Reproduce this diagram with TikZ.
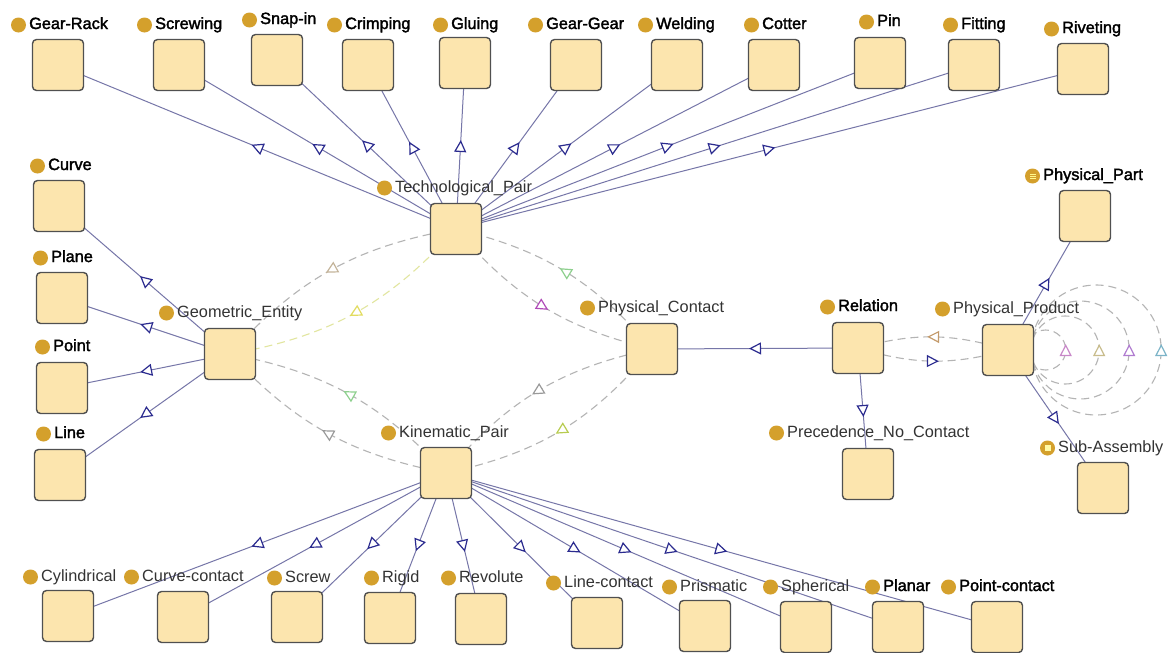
\documentclass[tikz,border=0pt]{standalone}
\usepackage{fontspec}
\setmainfont{Liberation Sans}
\newfontfamily\heavyfont[FakeBold=2]{Liberation Sans}
\usetikzlibrary{arrows.meta,decorations.markings}
\definecolor{boxfill}{HTML}{FCE5AE}
\definecolor{boxline}{HTML}{505050}
\definecolor{dotc}{HTML}{D4A02C}
\definecolor{txtgray}{HTML}{333333}
\definecolor{edgec}{HTML}{7676A8}
\definecolor{navyc}{HTML}{2B2B8F}
\definecolor{propc}{HTML}{B4B4B4}
\definecolor{yellowline}{HTML}{E2E6A0}
\definecolor{tanc}{HTML}{C4B49A}
\definecolor{yelc}{HTML}{E2DC60}
\definecolor{greenc}{HTML}{8ED08E}
\definecolor{magc}{HTML}{B04CB8}
\definecolor{grayc}{HTML}{9A9A9A}
\definecolor{ygc}{HTML}{B8CC50}
\definecolor{brownc}{HTML}{C49A6A}
\definecolor{pinkc}{HTML}{C888C8}
\definecolor{tantwo}{HTML}{C8BC8C}
\definecolor{purplec}{HTML}{B07CD0}
\definecolor{tealc}{HTML}{7CB4C8}
\pgfdeclarelayer{bg}
\pgfsetlayers{bg,main}
\tikzset{
  box/.style={draw=boxline, fill=boxfill, rounded corners=4pt, minimum size=51pt, inner sep=0pt, line width=1.4pt},
  lbl/.style={inner sep=0pt, text height=11pt, text depth=3pt, font=\fontsize{16.3}{18}\selectfont, text=txtgray},
  hlbl/.style={inner sep=0pt, text height=11pt, text depth=3pt, font=\heavyfont\fontsize{16.3}{18}\selectfont, text=black},
  dot/.style={circle, fill=dotc, minimum size=15pt, inner sep=0pt},
  tri/.style={postaction={decorate}, decoration={markings, mark=at position 0.5 with {\pgftransformxshift{6pt}\arrow{Triangle[length=12pt,width=12pt,color=#1,fill=white,line width=1.2pt]}}}},
  sub/.style={draw=edgec, line width=1pt, tri=navyc},
  prop/.style={draw=propc, line width=1.1pt, dash pattern=on 8pt off 5pt},
}
\newcommand\mkcls[7]{%
  \node[box] (#1) at (#2,-#3) {};
  \node[#7, anchor=west] (#1-t) at (#4,-#5) {#6};
  \node[dot] (#1-d) at ([xshift=-10.5pt]#1-t.west) {};
}
\begin{document}
\begin{tikzpicture}[x=1pt,y=1pt]
\useasboundingbox (0,0) rectangle (1173,-653);
% top row
\mkcls{GR}{58}{65}{29}{25}{Gear-Rack}{hlbl}
\mkcls{SW}{179}{65}{155}{25}{Screwing}{hlbl}
\mkcls{SN}{277}{60}{260}{20}{Snap-in}{hlbl}
\mkcls{CR}{368}{65}{345}{25}{Crimping}{hlbl}
\mkcls{GL}{465}{63}{451}{25}{Gluing}{hlbl}
\mkcls{GG}{576}{65}{546}{25}{Gear-Gear}{hlbl}
\mkcls{WE}{677}{65}{656}{25}{Welding}{hlbl}
\mkcls{CO}{774}{65}{762}{25}{Cotter}{hlbl}
\mkcls{PI}{880}{63}{877}{22}{Pin}{hlbl}
\mkcls{FI}{974}{65}{961}{25}{Fitting}{hlbl}
\mkcls{RI}{1083}{69}{1062}{29}{Riveting}{hlbl}
% left column
\mkcls{CU}{59}{206}{48}{166}{Curve}{hlbl}
\mkcls{PL}{62}{298}{51}{258}{Plane}{hlbl}
\mkcls{PO}{62}{388}{53}{347}{Point}{hlbl}
\mkcls{LI}{60}{475}{54}{434}{Line}{hlbl}
% middle
\mkcls{GE}{230}{354}{177}{313}{Geometric\_Entity}{lbl}
\mkcls{TP}{456}{229}{395}{188}{Technological\_Pair}{lbl}
\mkcls{PC}{652}{349}{598}{308}{Physical\_Contact}{lbl}
\mkcls{KP}{446}{473}{399}{433}{Kinematic\_Pair}{lbl}
\mkcls{RE}{858}{348}{838}{307}{Relation}{hlbl}
\mkcls{PP}{1008}{350}{953}{309}{Physical\_Product}{lbl}
\mkcls{PA}{1085}{216}{1043}{176}{Physical\_Part}{hlbl}
\mkcls{PNC}{868}{474}{787}{433}{Precedence\_No\_Contact}{lbl}
\mkcls{SA}{1103}{488}{1058}{448}{Sub-Assembly}{lbl}
% icons
\node[fill=yellow!45!white, minimum width=6pt, minimum height=5pt, inner sep=0pt] (PA-i) at (PA-d) {};
\draw[dotc, line width=0.6pt] ([yshift=1pt]PA-i.west) -- ([yshift=1pt]PA-i.east);
\draw[dotc, line width=0.6pt] ([yshift=-1pt]PA-i.west) -- ([yshift=-1pt]PA-i.east);
\node[fill=yellow!35!white, minimum size=6pt, inner sep=0pt] (SA-i) at (SA-d) {};
% bottom row
\mkcls{CY}{68}{616}{41}{577}{Cylindrical}{lbl}
\mkcls{CC}{183}{617}{142}{577}{Curve-contact}{lbl}
\mkcls{SC}{297}{617}{285}{578}{Screw}{lbl}
\mkcls{RG}{390}{618}{382}{578}{Rigid}{lbl}
\mkcls{RV}{481}{619}{459}{578}{Revolute}{lbl}
\mkcls{LC}{597}{623}{564}{583}{Line-contact}{lbl}
\mkcls{PR}{705}{626}{680}{587}{Prismatic}{lbl}
\mkcls{SP}{806}{627}{781}{587}{Spherical}{lbl}
\mkcls{PLN}{898}{627}{883}{587}{Planar}{hlbl}
\mkcls{PT}{997}{627}{959}{587}{Point-contact}{hlbl}
\begin{pgfonlayer}{bg}
  \fill[white] (0,0) rectangle (1173,-653);
  \foreach \c in {GR,SW,SN,CR,GL,GG,WE,CO,PI,FI,RI}
    \draw[sub] (TP.center) -- (\c.center);
  \foreach \c in {CU,PL,PO,LI}
    \draw[sub] (GE.center) -- (\c.center);
  \foreach \c in {CY,CC,SC,RG,RV,LC,PR,SP,PLN,PT}
    \draw[sub] (KP.center) -- (\c.center);
  \draw[sub] (RE.center) -- (PC.center);
  \draw[sub] (RE.center) -- (PNC.center);
  \draw[sub] (PP.center) -- (PA.center);
  \draw[sub] (PP.center) -- (SA.center);
  % object properties
  \draw[prop, tri=tanc] (TP.center) to[bend right=19] (GE.center);
  \draw[prop, draw=yellowline, tri=yelc] (TP.center) to[bend left=19] (GE.center);
  \draw[prop, tri=greenc] (PC.center) to[bend right=18] (TP.center);
  \draw[prop, tri=magc] (TP.center) to[bend right=18] (PC.center);
  \draw[prop, tri=grayc] (PC.center) to[bend right=19] (KP.center);
  \draw[prop, tri=ygc] (PC.center) to[bend left=19] (KP.center);
  \draw[prop, tri=greenc] (KP.center) to[bend right=18] (GE.center);
  \draw[prop, tri=grayc] (KP.center) to[bend left=18] (GE.center);
  \draw[prop, tri=brownc] (PP.center) to[bend right=16] (RE.center);
  \draw[prop, tri=navyc] (RE.center) to[bend right=16] (PP.center);
  % self loops
  \draw[prop, tri=pinkc] ([xshift=-8.5pt]PP.east) arc[start angle=180, end angle=540, radius=20];
  \draw[prop, tri=tantwo] ([xshift=-3pt]PP.east) arc[start angle=180, end angle=540, radius=34];
  \draw[prop, tri=purplec] ([xshift=-3pt]PP.east) arc[start angle=180, end angle=540, radius=49];
  \draw[prop, tri=tealc] ([xshift=-3pt]PP.east) arc[start angle=180, end angle=540, radius=65];
\end{pgfonlayer}
\end{tikzpicture}
\end{document}
